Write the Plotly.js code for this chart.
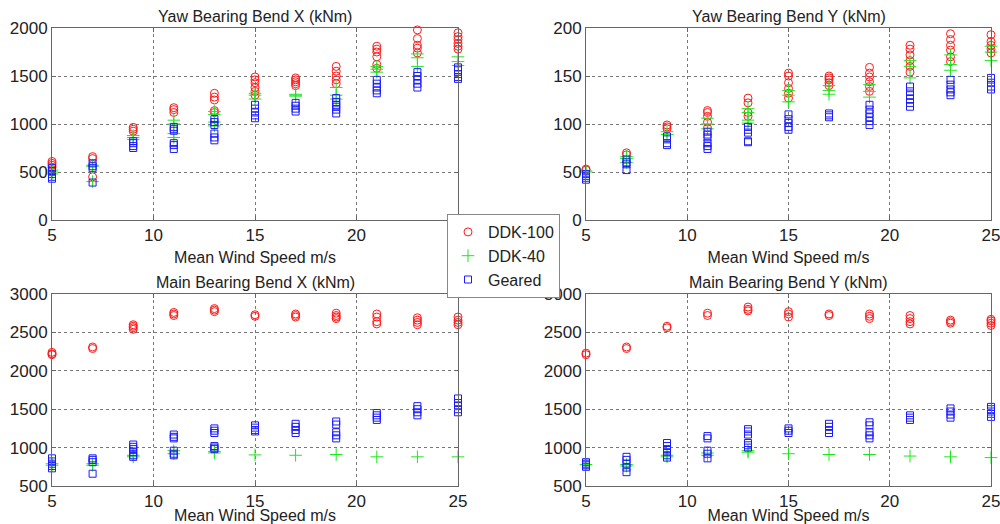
<!DOCTYPE html>
<html>
<head>
<meta charset="utf-8">
<script src="https://cdn.plot.ly/plotly-3.0.1.min.js"></script>
<style>html,body{margin:0;padding:0;background:#fff;}#chart{width:1000px;height:524px;}</style>
</head>
<body>
<div id="chart"></div>
<script>
const speeds = [5, 7, 9, 11, 13, 15, 17, 19, 21, 23, 25];
const seriesNames = ["DDK-100", "DDK-40", "Geared"];
const panelTitles = ["Yaw Bearing Bend X (kNm)", "Yaw Bearing Bend Y (kNm)", "Main Bearing Bend X (kNm)", "Main Bearing Bend Y (kNm)"];
const xTitle = "Mean Wind Speed m/s";

// Yaw Bearing Bend X
const yawX_ddk100 = [[610,590,570,550],[660,640,450],[965,945,925],[1170,1150,1120],[1320,1280,1250,1140,1120],[1490,1460,1430,1380,1340,1300],[1480,1460,1440,1420,1400],[1600,1550,1500,1460,1420],[1810,1780,1750,1700,1620,1580],[1980,1890,1820,1790,1740],[1950,1910,1880,1840,1810,1780]];
const yawX_ddk40 = [[520,500,480],[570,560,400],[880,860,840],[1040,1000,900,860],[1130,1100,1020,980],[1320,1300,1260],[1310,1300,1290],[1380,1300,1260],[1600,1570,1540],[1730,1690,1600],[1700,1650,1610]];
const yawX_geared = [[540,510,480,450,430],[590,560,540,390],[820,800,770,750],[970,950,930,800,780,740],[1050,1020,990,900,860,830],[1200,1160,1120,1090,1060],[1220,1190,1160,1130],[1270,1230,1200,1180,1150,1110],[1460,1420,1380,1350,1320],[1540,1500,1460,1420,1380],[1590,1560,1520,1490,1470]];

// Yaw Bearing Bend Y
const yawY_ddk100 = [[53,52],[70,68],[99,97,95],[114,112,108,102,96],[127,122,112,108],[153,150,143,137,132,127],[150,148,146,143,140],[159,153,149,144,139,134],[182,178,172,166,160,154],[194,188,182,177,170,165],[193,186,182,178,174]];
const yawY_ddk40 = [[51,50],[66,64,60],[92,89],[106,100,95],[116,112,104,101],[135,130,123],[140,135,131],[141,134,128],[166,160,148],[172,162,156],[181,175,166]];
const yawY_geared = [[48,46,44,42],[63,60,58,52],[87,84,80,78],[92,89,86,80,77,74],[97,94,91,82,81],[110,105,101,97,94],[111,109,107],[120,115,111,107,103,99],[139,134,130,126,122,118],[146,141,136,133,130],[148,143,139,136]];

// Main Bearing Bend X
const mainX_ddk100 = [[2240,2220,2210],[2310,2290],[2600,2580,2560,2540],[2760,2740,2720],[2810,2790,2770],[2730,2710],[2740,2720,2700],[2750,2720,2700,2680],[2740,2700,2640,2610],[2690,2660,2630,2600],[2700,2660,2630,2600]];
const mainX_ddk40 = [[790,770],[790,770],[900,880],[960,920],[950,930],[905],[900],[910],[880],[880],[880]];
const mainX_geared = [[860,820,790,760,730],[860,840,810,660],[1040,1010,980,940,900,880],[1170,1140,1120,960,920,900],[1250,1220,1190,1020,1000,980],[1290,1260,1230,1210],[1310,1270,1230,1190],[1340,1300,1200,1160,1120],[1450,1420,1390,1360],[1540,1500,1460,1420],[1640,1580,1540,1500,1460]];

// Main Bearing Bend Y
const mainY_ddk100 = [[2230,2210],[2310,2290],[2580,2560],[2750,2720],[2830,2800,2780],[2770,2740,2700],[2740,2720],[2740,2710,2680],[2720,2680,2640,2610],[2660,2640,2620],[2670,2650,2620,2590]];
const mainY_ddk40 = [[780],[780,760],[900,880],[930,900],[960,940],[920],[910],[910],[890],[880],[870]];
const mainY_geared = [[810,790,770,750],[880,840,790,740,680],[1060,1020,980,940,900,870],[1150,1120,960,920,860],[1240,1210,1170,1060,1030,1000],[1250,1220,1190],[1310,1270,1230,1190],[1330,1290,1200,1160,1120],[1420,1390,1360],[1510,1470,1430,1390],[1530,1500,1470,1440,1400]];

const yRanges = [[0, 2000], [0, 200], [500, 3000], [500, 3000]];
const yDticks = [500, 50, 500, 500];

const panels = [
  [yawX_ddk100, yawX_ddk40, yawX_geared],
  [yawY_ddk100, yawY_ddk40, yawY_geared],
  [mainX_ddk100, mainX_ddk40, mainX_geared],
  [mainY_ddk100, mainY_ddk40, mainY_geared]
];

const styles = [
  {symbol: "circle-open", color: "#ff1a1a", size: 8},
  {symbol: "cross-thin-open", color: "#1ee61e", size: 9},
  {symbol: "square-open", color: "#1a1aff", size: 7}
];

function flatten(groups) {
  const x = [], y = [];
  groups.forEach((vals, i) => vals.forEach(v => { x.push(speeds[i]); y.push(v); }));
  return {x, y};
}

const traces = [];
panels.forEach((series, p) => {
  series.forEach((groups, s) => {
    const d = flatten(groups);
    const st = styles[s];
    traces.push({
      type: "scatter", mode: "markers",
      x: d.x, y: d.y,
      xaxis: p === 0 ? "x" : "x" + (p + 1),
      yaxis: p === 0 ? "y" : "y" + (p + 1),
      name: seriesNames[s], legendgroup: seriesNames[s], showlegend: p === 0,
      cliponaxis: false,
      marker: {symbol: st.symbol, size: st.size, color: st.color, line: {color: st.color, width: 1}}
    });
  });
});

const font = {family: "Liberation Sans, Arial, sans-serif", size: 16, color: "#222"};
const W = 1000, H = 524;
const xDomains = [[52 / W, 458 / W], [586 / W, 991 / W]];
const yDomains = [[1 - 220 / H, 1 - 28 / H], [1 - 486 / H, 1 - 294 / H]];

const layout = {
  width: W, height: H,
  margin: {l: 0, r: 0, t: 0, b: 0},
  paper_bgcolor: "#fff", plot_bgcolor: "#fff",
  font: font,
  showlegend: true,
  legend: {x: 447 / W, y: 1 - 214 / H, xanchor: "left", yanchor: "top", bgcolor: "#fff", bordercolor: "#888", borderwidth: 1,
    font: {family: font.family, size: 16, color: "#222"}, tracegroupgap: 0, itemwidth: 30},
  annotations: []
};

for (let p = 0; p < 4; p++) {
  const col = p % 2, row = Math.floor(p / 2);
  const xk = p === 0 ? "xaxis" : "xaxis" + (p + 1);
  const yk = p === 0 ? "yaxis" : "yaxis" + (p + 1);
  const common = {showline: true, mirror: "ticks", linecolor: "#666", linewidth: 1, ticks: "inside", ticklen: 4, tickcolor: "#666",
    showgrid: true, gridcolor: "#777", griddash: "dot", gridwidth: 1, zeroline: false, ticklabeloverflow: "allow",
    tickfont: {family: font.family, size: 17, color: "#222"}};
  layout[xk] = Object.assign({}, common, {
    domain: xDomains[col], range: [5, 25], dtick: 5, tick0: 5,
    anchor: p === 0 ? "y" : "y" + (p + 1),
    title: {text: xTitle, font: {family: font.family, size: 16, color: "#222"}, standoff: 7}
  });
  layout[yk] = Object.assign({}, common, {
    domain: yDomains[row], range: yRanges[p], dtick: yDticks[p],
    anchor: p === 0 ? "x" : "x" + (p + 1)
  });
  layout.annotations.push({
    text: panelTitles[p], xref: "paper", yref: "paper",
    x: (xDomains[col][0] + xDomains[col][1]) / 2, y: yDomains[row][1],
    xanchor: "center", yanchor: "bottom", yshift: 1, showarrow: false,
    font: {family: font.family, size: 16, color: "#222"}
  });
}

Plotly.newPlot("chart", traces, layout, {displayModeBar: false, staticPlot: true});
</script>
</body>
</html>
